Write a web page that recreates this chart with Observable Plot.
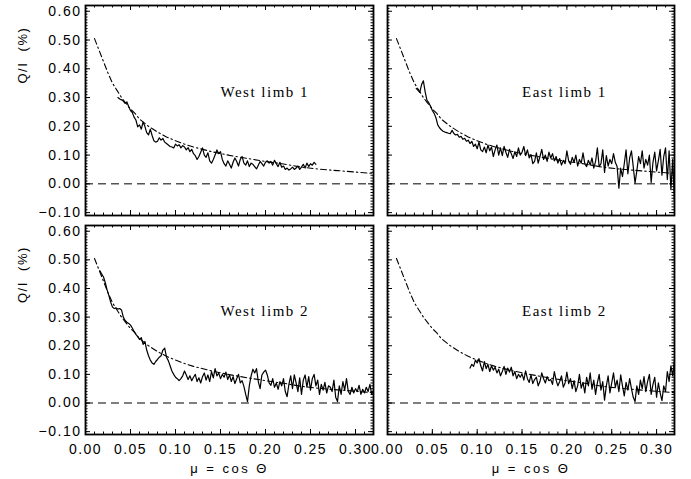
<!DOCTYPE html>
<html><head><meta charset="utf-8">
<script src="https://cdn.jsdelivr.net/npm/d3@7"></script>
<script src="https://cdn.jsdelivr.net/npm/@observablehq/plot@0.6"></script>
<style>
body{margin:0;background:#fff;}
#chart{position:relative;width:691px;height:479px;background:#fff;overflow:hidden;}
#chart > div{position:absolute;}
#chart svg{overflow:visible;}
[aria-label="x-axis tick label"] text,[aria-label="y-axis tick label"] text{letter-spacing:1.5px;}
</style></head><body><div id="chart"></div>
<script>
// ---- tick labels ----
const xTickValues = [0, 0.05, 0.10, 0.15, 0.20, 0.25, 0.30];
const yTickValues = [-0.10, 0, 0.10, 0.20, 0.30, 0.40, 0.50, 0.60];
const xTitle = "μ = cos Θ";
const yTitle = "Q/I  (%)";
const panelNames = ["West limb 1", "East limb 1", "West limb 2", "East limb 2"];

// ---- model curve (dash-dot) ----
const modelMu = [0.010,0.015,0.020,0.025,0.030,0.035,0.040,0.045,0.050,0.055,0.060,0.070,0.080,0.090,0.100,0.110,0.120,0.140,0.160,0.180,0.200,0.220,0.240,0.260,0.280,0.300,0.320];
const modelQ  = [0.505,0.465,0.425,0.385,0.350,0.325,0.300,0.280,0.260,0.245,0.225,0.200,0.180,0.163,0.150,0.138,0.128,0.112,0.099,0.088,0.078,0.069,0.058,0.051,0.046,0.041,0.036];

// ---- observed series (regular mu sampling: start, step) ----
const westLimb1Start = 0.036, westLimb1Step = 0.002;
const westLimb1 = [0.300,0.295,0.292,0.288,0.280,0.285,0.268,0.255,0.248,0.232,0.222,0.198,0.205,0.190,0.215,0.200,0.178,0.170,0.190,0.168,0.150,0.145,0.148,0.160,0.152,0.158,0.145,0.140,0.135,0.130,0.128,0.125,0.138,0.132,0.136,0.125,0.133,0.128,0.118,0.126,0.112,0.120,0.105,0.098,0.085,0.095,0.110,0.125,0.100,0.092,0.108,0.080,0.072,0.085,0.100,0.118,0.105,0.112,0.085,0.070,0.062,0.080,0.068,0.055,0.075,0.090,0.078,0.062,0.085,0.095,0.072,0.065,0.080,0.060,0.072,0.068,0.060,0.052,0.065,0.078,0.070,0.062,0.075,0.080,0.072,0.078,0.065,0.082,0.070,0.060,0.075,0.058,0.062,0.050,0.055,0.048,0.052,0.058,0.050,0.055,0.062,0.050,0.058,0.068,0.055,0.072,0.060,0.070,0.065,0.075,0.068];

const eastLimb1Start = 0.032, eastLimb1Step = 0.002;
const eastLimb1 = [0.332,0.325,0.318,0.345,0.358,0.320,0.290,0.282,0.270,0.255,0.245,0.230,0.205,0.195,0.188,0.183,0.180,0.178,0.176,0.174,0.186,0.175,0.170,0.172,0.162,0.165,0.155,0.158,0.148,0.152,0.140,0.148,0.130,0.138,0.122,0.145,0.118,0.112,0.128,0.108,0.135,0.115,0.128,0.095,0.118,0.135,0.100,0.125,0.098,0.130,0.110,0.092,0.120,0.105,0.088,0.112,0.095,0.125,0.100,0.110,0.130,0.098,0.118,0.090,0.102,0.070,0.078,0.108,0.072,0.095,0.120,0.085,0.100,0.078,0.110,0.090,0.105,0.080,0.095,0.072,0.088,0.065,0.082,0.070,0.115,0.080,0.068,0.092,0.075,0.100,0.062,0.085,0.072,0.108,0.070,0.060,0.082,0.065,0.090,0.055,0.078,0.125,0.060,0.070,0.118,0.040,0.098,0.062,0.085,0.070,0.105,0.075,0.060,-0.015,0.055,0.025,0.070,0.118,0.035,0.090,0.115,0.060,0.002,0.045,0.095,0.070,0.115,0.055,0.085,0.065,0.100,0.005,0.075,0.110,0.045,0.080,0.120,0.030,0.095,0.125,0.015,0.115,-0.020,0.085,-0.065];

const westLimb2Start = 0.016, westLimb2Step = 0.002;
const westLimb2 = [0.462,0.450,0.440,0.420,0.395,0.375,0.352,0.335,0.330,0.332,0.328,0.330,0.325,0.300,0.288,0.282,0.278,0.272,0.262,0.250,0.240,0.232,0.222,0.228,0.205,0.215,0.185,0.165,0.150,0.140,0.135,0.145,0.152,0.160,0.165,0.185,0.192,0.160,0.148,0.130,0.112,0.100,0.090,0.085,0.078,0.085,0.095,0.112,0.098,0.082,0.095,0.078,0.090,0.100,0.075,0.088,0.070,0.092,0.105,0.080,0.098,0.075,0.110,0.088,0.120,0.095,0.105,0.085,0.100,0.090,0.108,0.082,0.098,0.075,0.092,0.068,0.085,0.100,0.070,0.078,0.058,0.030,0.005,0.060,0.095,0.118,0.105,0.120,0.075,0.050,0.098,0.108,0.115,0.098,0.070,0.062,0.085,0.055,0.070,0.048,0.075,0.060,0.085,0.040,0.022,0.065,0.095,0.050,0.098,0.070,0.040,0.088,0.030,0.080,0.098,0.055,0.092,0.045,0.085,0.100,0.060,0.080,0.030,0.065,0.045,0.072,0.035,0.060,0.055,0.040,0.080,0.020,0.005,0.060,0.030,0.075,0.045,0.085,0.040,0.030,0.055,0.035,0.050,0.040,0.062,0.030,0.048,0.035,0.055,0.040,0.065,0.030,0.045];

const eastLimb2Start = 0.092, eastLimb2Step = 0.002;
const eastLimb2 = [0.122,0.135,0.128,0.150,0.140,0.155,0.130,0.112,0.145,0.120,0.135,0.110,0.130,0.115,0.125,0.105,0.118,0.095,0.110,0.128,0.100,0.122,0.108,0.125,0.095,0.110,0.085,0.100,0.090,0.102,0.080,0.112,0.085,0.072,0.098,0.068,0.082,0.090,0.060,0.075,0.105,0.085,0.070,0.092,0.078,0.082,0.065,0.110,0.080,0.060,0.075,0.095,0.055,0.070,0.108,0.068,0.085,0.050,0.078,0.040,0.060,0.100,0.052,0.072,0.035,0.090,0.060,0.105,0.048,0.080,0.030,0.070,0.100,0.045,0.075,0.010,0.060,0.095,0.035,0.070,0.105,0.055,0.080,0.040,0.098,0.060,0.025,0.072,0.045,0.085,0.050,0.020,0.005,0.060,0.030,0.080,0.050,0.092,0.040,0.075,0.100,0.030,0.065,0.090,0.020,0.070,0.035,0.008,0.060,0.040,0.110,0.075,0.130,0.095,0.150];

// ---- build ----
const xDomain = [0, 0.32];
const yDomain = [-0.11, 0.62];
const fmt = d3.format(".2f");
const xMinor = d3.range(0, 0.3201, 0.01);
const yMinor = d3.range(-0.11, 0.6201, 0.01);

const model = modelMu.map((m, i) => ({mu: m, q: modelQ[i]}));
function series(vals, start, step) { return vals.map((v, i) => ({mu: start + i * step, q: v})); }

const panels = [
  {name: panelNames[0], obs: series(westLimb1, westLimb1Start, westLimb1Step), left: 0,   top: 0,   w: 380, h: 220, ml: 85, mr: 7,  mt: 5, mb: 5,  showX: false, showY: true},
  {name: panelNames[1], obs: series(eastLimb1, eastLimb1Start, eastLimb1Step), left: 380, top: 0,   w: 311, h: 220, ml: 7,  mr: 17, mt: 5, mb: 5,  showX: false, showY: false},
  {name: panelNames[2], obs: series(westLimb2, westLimb2Start, westLimb2Step), left: 0,   top: 220, w: 380, h: 259, ml: 85, mr: 7,  mt: 5, mb: 45, showX: true,  showY: true},
  {name: panelNames[3], obs: series(eastLimb2, eastLimb2Start, eastLimb2Step), left: 380, top: 220, w: 311, h: 259, ml: 7,  mr: 17, mt: 5, mb: 45, showX: true,  showY: false}
];

const chart = document.getElementById("chart");
for (const p of panels) {
  const fw = p.w - p.ml - p.mr, fh = p.h - p.mt - p.mb;
  const marks = [
    Plot.ruleY([0], {stroke: "#555", strokeWidth: 1.5, strokeDasharray: "8,5"}),
    Plot.line(model, {x: "mu", y: "q", stroke: "#000", strokeWidth: 1.1, strokeDasharray: "6,3,1.5,3"}),
    Plot.line(p.obs, {x: "mu", y: "q", stroke: "#000", strokeWidth: 1.2}),
    Plot.ruleX(xMinor, {x: d => d, insetTop: fh - 2.5, stroke: "#000"}),
    Plot.ruleX(xMinor, {x: d => d, insetBottom: fh - 2.5, stroke: "#000"}),
    Plot.ruleX(xTickValues, {x: d => d, insetTop: fh - 5, stroke: "#000"}),
    Plot.ruleX(xTickValues, {x: d => d, insetBottom: fh - 5, stroke: "#000"}),
    Plot.ruleY(yMinor, {y: d => d, insetRight: fw - 2.5, stroke: "#000"}),
    Plot.ruleY(yMinor, {y: d => d, insetLeft: fw - 2.5, stroke: "#000"}),
    Plot.ruleY(yTickValues, {y: d => d, insetRight: fw - 5, stroke: "#000"}),
    Plot.ruleY(yTickValues, {y: d => d, insetLeft: fw - 5, stroke: "#000"}),
    Plot.frame({stroke: "#000", strokeWidth: 1.8}),
    Plot.text([p.name], {x: [0.15], y: [0.32], text: d => d, textAnchor: "start", fontFamily: "Liberation Serif", fontSize: 15, fill: "#000"})
  ];
  if (p.showY) {
    marks.push(Plot.axisY(yTickValues, {anchor: "left", tickSize: 0, tickPadding: 4, tickFormat: fmt, label: null, fontSize: 14, fill: "#000"}));
    marks.push(Plot.text([yTitle], {frameAnchor: "left", dx: -63, dy: -27, rotate: -90, text: d => d, fontSize: 13, fill: "#000"}));
  }
  if (p.showX) {
    marks.push(Plot.axisX(xTickValues, {anchor: "bottom", tickSize: 0, tickPadding: 10, tickFormat: fmt, label: null, fontSize: 14, fill: "#000"}));
    marks.push(Plot.text([xTitle], {frameAnchor: "bottom", dy: 38, text: d => d, fontSize: 13, fill: "#000"}));
  }
  const svg = Plot.plot({
    width: p.w, height: p.h,
    marginLeft: p.ml, marginRight: p.mr, marginTop: p.mt, marginBottom: p.mb,
    x: {domain: xDomain, axis: null},
    y: {domain: yDomain, axis: null},
    style: {fontFamily: "Liberation Sans, Arial, sans-serif", fontSize: "12px", background: "transparent", color: "#000"},
    marks
  });
  // letter spacing for the IDL-like wide text
  svg.querySelectorAll("text").forEach(t => {
    const s = t.textContent;
    if (panelNames.includes(s)) t.style.letterSpacing = "1.5px";
    else if (s === yTitle) t.style.letterSpacing = "1.5px";
    else if (s === xTitle) t.style.letterSpacing = "2.5px";
  });
  const div = document.createElement("div");
  div.style.left = p.left + "px";
  div.style.top = p.top + "px";
  div.appendChild(svg);
  chart.appendChild(div);
}
</script></body></html>
